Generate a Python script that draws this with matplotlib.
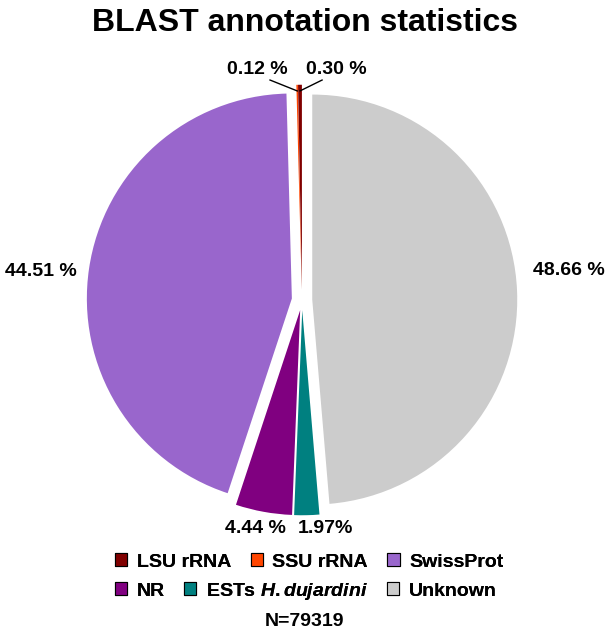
import numpy as np
import matplotlib
matplotlib.use("Agg")
import matplotlib.pyplot as plt
from matplotlib.patches import Patch

plt.rcParams['font.family'] = ['Liberation Sans', 'DejaVu Sans']
plt.rcParams['mathtext.fontset'] = 'custom'
plt.rcParams['mathtext.it'] = 'Liberation Sans:italic:bold'
plt.rcParams['mathtext.rm'] = 'Liberation Sans:bold'

# Slices in drawing order (clockwise from the top)
categories = ["Unknown", "ESTs H.dujardini", "NR", "SwissProt", "SSU rRNA", "LSU rRNA"]
percent = [48.66, 1.97, 4.44, 44.51, 0.12, 0.30]
pct_labels = ["48.66 %", "1.97%", "4.44 %", "44.51 %", "0.12 %", "0.30 %"]
colors = ["#cccccc", "#008080", "#800080", "#9966cc", "#ff4500", "#800000"]
n_total = 79319

# legend rows as in the picture
legend_rows = [["LSU rRNA", "SSU rRNA", "SwissProt"],
               ["NR", "ESTs H.dujardini", "Unknown"]]
legend_text = {"ESTs H.dujardini": "ESTs $\\it{H.dujardini}$"}

W, H = 609, 635
fig = plt.figure(figsize=(W / 100, H / 100), dpi=100)
R = 205          # pie radius, px
lim = 1.45
cx, cy = 302, 300  # pie centre, px from top-left
ax = fig.add_axes([(cx - lim * R) / W, (H - cy - lim * R) / H,
                   2 * lim * R / W, 2 * lim * R / H])

wedges, _ = ax.pie(percent, colors=colors, startangle=90, counterclock=False,
                   explode=[0.05] * len(percent), radius=1.0,
                   wedgeprops=dict(linewidth=0))
ax.set_xlim(-lim, lim)
ax.set_ylim(-lim, lim)
ax.set_aspect("equal")
ax.axis("off")

# label positions (in pie radius units, relative to centre)
label_pos = {
    "48.66 %": (1.30, 0.146),
    "1.97%": (0.112, -1.115),
    "4.44 %": (-0.229, -1.115),
    "44.51 %": (-1.273, 0.137),
    "0.12 %": (-0.22, 1.122),
    "0.30 %": (0.166, 1.122),
}
# leader line start points for the tiny slices
leader_start = {"0.12 %": (-0.156, 1.073), "0.30 %": (0.098, 1.073)}

for w, lab in zip(wedges, pct_labels):
    x, y = label_pos[lab]
    ax.text(x, y, lab, ha="center", va="center", fontsize=14, fontweight="bold")
    if lab in leader_start:
        ang = np.deg2rad((w.theta1 + w.theta2) / 2)
        sx, sy = leader_start[lab]
        ex, ey = w.center[0] + 0.97 * np.cos(ang), w.center[1] + 0.97 * np.sin(ang)
        ax.plot([sx, ex], [sy, ey], color="black", lw=1)

fig.text(0.5, 1 - 31 / H, "BLAST annotation statistics", ha="center", va="baseline",
         fontsize=23, fontweight="bold")

col_map = dict(zip(categories, colors))
row_y = [562, 591]
for row, yy in zip(legend_rows, row_y):
    handles = [Patch(facecolor=col_map[c], edgecolor="black", linewidth=0.8) for c in row]
    labels = [legend_text.get(c, c) for c in row]
    leg = fig.legend(handles, labels, ncol=3, loc="center left",
                     bbox_to_anchor=(115 / W, 1 - yy / H), frameon=False,
                     prop=dict(size=14, weight="bold"), handlelength=0.62,
                     handleheight=0.62, handletextpad=0.5, columnspacing=1.0,
                     borderpad=0, borderaxespad=0)
    fig.add_artist(leg)

fig.text(0.5, 1 - 622 / H, "N=%d" % n_total, ha="center", va="center", fontsize=14,
         fontweight="bold")

fig.savefig("out.png", dpi=100)
